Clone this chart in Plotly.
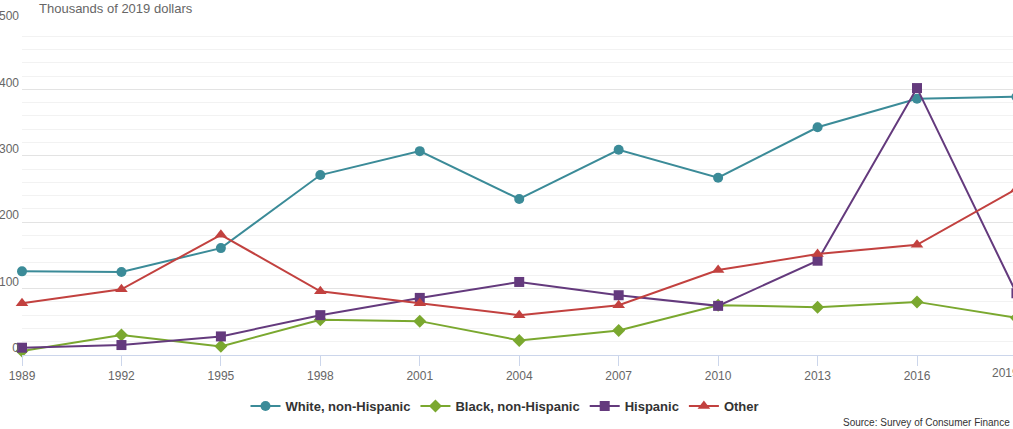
import plotly.graph_objects as go

years = [1989, 1992, 1995, 1998, 2001, 2004, 2007, 2010, 2013, 2016, 2019]
white = [126, 125, 161, 271, 307, 235, 309, 267, 343, 386, 389]
black = [6, 30, 13, 53, 51, 22, 37, 75, 72, 80, 56]
hispanic = [11, 15, 28, 60, 86, 110, 90, 74, 142, 402, 93]
other = [78, 99, 181, 96, 78, 60, 75, 128, 152, 166, 250]

series = [
    ("White, non-Hispanic", white, "#3b8b98", "circle", 10),
    ("Black, non-Hispanic", black, "#7aa82f", "diamond", 10),
    ("Hispanic", hispanic, "#643a7d", "square", 10),
    ("Other", other, "#c2413f", "triangle-up", 11),
]

W = 1045
L = 22
pxyr = 895 / 27
x0, x1 = 1989, 1989 + (W - L) / pxyr
pw = W - L
font = "Liberation Sans, Arial, sans-serif"
fig = go.Figure()
for name, vals, color, sym, size in series:
    fig.add_trace(go.Scatter(
        x=years, y=vals, name=name, mode="lines+markers",
        line=dict(color=color, width=2),
        marker=dict(symbol=sym, size=size, color=color, line=dict(width=0)),
        cliponaxis=False,
    ))

ticktext = [str(y) for y in years[:-1]] + [""]

fig.update_layout(
    width=W, height=429,
    margin=dict(l=L, r=0, t=23, b=74, autoexpand=False),
    plot_bgcolor="white", paper_bgcolor="white",
    font=dict(family=font, size=12, color="#666666"),
    showlegend=True,
    legend=dict(orientation="h", x=(505 - L) / pw, xanchor="center", y=-0.154, yanchor="middle",
                font=dict(size=13, color="#333333", family=font, weight="bold"),
                itemwidth=30),
    xaxis=dict(range=[x0, x1], tickvals=years, ticktext=ticktext, showgrid=False, automargin=False,
               showline=True, linecolor="#ccd6eb", linewidth=1,
               ticks="outside", ticklen=10, tickcolor="#ccd6eb",
               tickfont=dict(size=12, color="#666666"), zeroline=False),
    yaxis=dict(range=[0, 500], tickvals=[0, 100, 200, 300, 400, 500], automargin=False,
               showgrid=True, gridcolor="#e3e3e3", gridwidth=1, zeroline=False,
               minor=dict(dtick=20, showgrid=True, gridcolor="#f2f2f2", gridwidth=1),
               tickfont=dict(size=12, color="#666666"),
               ticklabelshift=-7, ticklabelstandoff=2),
    annotations=[
        dict(text="Thousands of 2019 dollars", xref="paper", yref="paper",
             x=(37 - L) / pw, y=1.045, xanchor="left", yanchor="middle", showarrow=False,
             font=dict(size=13, color="#666666", family=font)),
        dict(text=str(years[-1]), xref="paper", yref="paper", x=(1005 - L) / pw, y=0,
             xanchor="center", yanchor="top", yshift=-9, showarrow=False,
             font=dict(size=12, color="#666666", family=font)),
        dict(text="Source: Survey of Consumer Finance", xref="paper", yref="paper",
             x=(1012 - L) / pw, y=-0.202, xanchor="right", yanchor="middle", showarrow=False,
             font=dict(size=10, color="#333333", family=font)),
    ],
)

fig.write_html("out.html", config={"displayModeBar": False},
               post_script="document.body.style.margin='0px';document.body.style.overflow='hidden';document.documentElement.style.overflow='hidden';")
